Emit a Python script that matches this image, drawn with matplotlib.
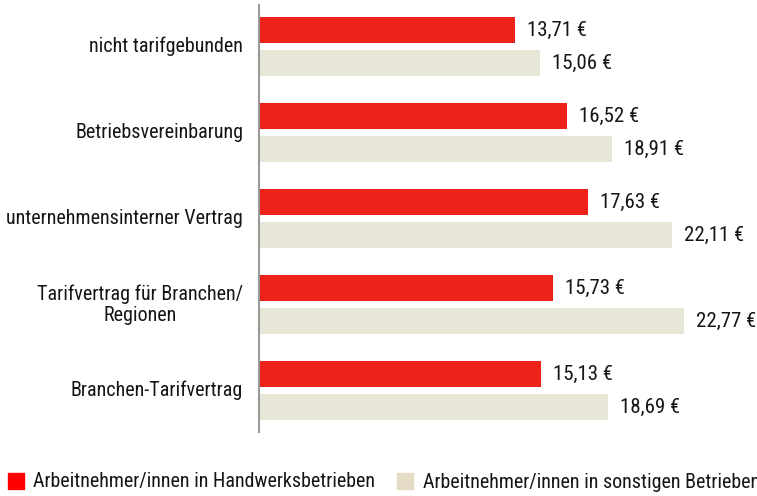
import matplotlib
matplotlib.use("Agg")
import matplotlib.pyplot as plt
from matplotlib.patches import Rectangle
import numpy as np

categories = ["nicht tarifgebunden", "Betriebsvereinbarung", "unternehmensinterner Vertrag",
              "Tarifvertrag für Branchen/\nRegionen", "Branchen-Tarifvertrag"]
handwerk = [13.71, 16.52, 17.63, 15.73, 15.13]
sonstige = [15.06, 18.91, 22.11, 22.77, 18.69]
series_names = ["Arbeitnehmer/innen in Handwerksbetrieben", "Arbeitnehmer/innen in sonstigen Betrieben"]

W, H = 757, 496
fig = plt.figure(figsize=(W/100, H/100), dpi=100)
fam = ["Roboto Condensed", "DejaVu Sans"]
st = "condensed"
ax_left, ax_top, ax_bot = 259, 5, 432
ax = fig.add_axes([ax_left/W, 1 - ax_bot/H, (W - ax_left)/W, (ax_bot - ax_top)/H])

red = "#EE2219"
beige = "#E8E6D7"
y = np.arange(len(categories))
h = 26/86
off = 16.5/86
ax.barh(y - off, handwerk, height=h, color=red)
ax.barh(y + off, sonstige, height=h, color=beige)
ax.set_xlim(0, (W - ax_left)/18.67)
ax.set_ylim(len(categories) - 0.517, -0.483)

def fmt(v):
    return f"{v:.2f}".replace(".", ",") + " €"

tc = "#151515"
for i in range(len(categories)):
    ax.text(handwerk[i] + 0.64, y[i] - off, fmt(handwerk[i]), va="center", ha="left",
            fontsize=15, family=fam, fontstretch=st, color=tc)
    ax.text(sonstige[i] + 0.64, y[i] + off, fmt(sonstige[i]), va="center", ha="left",
            fontsize=15, family=fam, fontstretch=st, color=tc)
    ax.text(-0.85, y[i], categories[i], va="center", ha="right", multialignment="center",
            fontsize=14.5, family=fam, fontstretch=st, color=tc, linespacing=1.15)

for s in ["top", "right", "bottom"]:
    ax.spines[s].set_visible(False)
ax.spines["left"].set_color("#999999")
ax.spines["left"].set_linewidth(1.5)
ax.set_xticks([])
ax.set_yticks([])

# legend
leg_y = 1 - 482/H
fig.patches.append(Rectangle((8/W, 1 - 489/H), 16/W, 16/H, transform=fig.transFigure,
                             color="#FF0000", figure=fig))
fig.text(33/W, leg_y, series_names[0], va="center", ha="left", fontsize=14.4, family=fam,
         fontstretch=st, color=tc)
fig.patches.append(Rectangle((397/W, 1 - 489/H), 16/W, 16/H, transform=fig.transFigure,
                             color="#E5DCC6", figure=fig))
fig.text(423/W, leg_y, series_names[1], va="center", ha="left", fontsize=14.4, family=fam,
         fontstretch=st, color=tc)

fig.savefig("out.png", dpi=100)
